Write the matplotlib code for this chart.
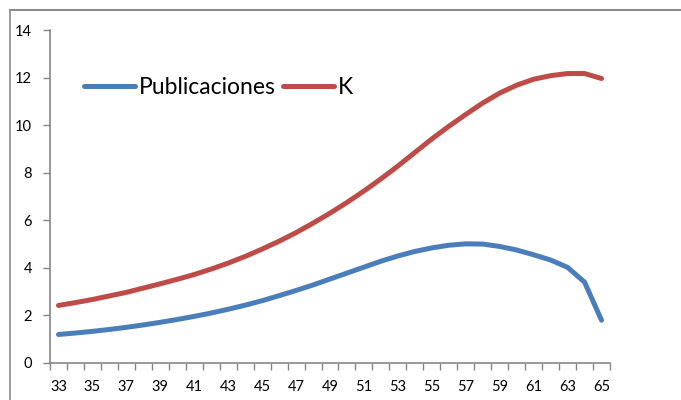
import matplotlib
matplotlib.use("Agg")
import matplotlib.pyplot as plt
from matplotlib.lines import Line2D
from matplotlib.ticker import FixedLocator, NullFormatter

plt.rcParams['font.family'] = ['Lato', 'DejaVu Sans']

ages = list(range(33, 66))
publicaciones = [1.20, 1.26, 1.33, 1.41, 1.50, 1.60, 1.71, 1.83, 1.96, 2.10,
                 2.26, 2.43, 2.62, 2.83, 3.05, 3.28, 3.53, 3.78, 4.03, 4.28,
                 4.50, 4.69, 4.84, 4.95, 5.01, 5.00, 4.90, 4.75, 4.55, 4.33,
                 4.02, 3.40, 1.80]
k_values = [2.42, 2.54, 2.67, 2.82, 2.97, 3.15, 3.33, 3.52, 3.72, 3.95,
            4.20, 4.48, 4.79, 5.12, 5.48, 5.88, 6.30, 6.75, 7.23, 7.74,
            8.28, 8.85, 9.42, 9.95, 10.45, 10.93, 11.35, 11.68, 11.93, 12.08,
            12.17, 12.17, 11.96]
y_ticks = [0, 2, 4, 6, 8, 10, 12, 14]

W, H = 681, 400
fig = plt.figure(figsize=(W / 100, H / 100), dpi=100)
ax = fig.add_axes([50 / W, 37 / H, 560 / W, 333 / H])

idx = list(range(len(ages)))
ax.plot(idx, publicaciones, color='#4A7EBB', lw=3.6, solid_capstyle='round',
        solid_joinstyle='round', label='Publicaciones')
ax.plot(idx, k_values, color='#BE4B48', lw=3.6, solid_capstyle='round',
        solid_joinstyle='round', label='K')

ax.set_xlim(-0.5, len(ages) - 0.5)
ax.set_ylim(0, 14)
ax.set_yticks(y_ticks)

# category labels every other age, tick marks on category boundaries
ax.set_xticks(idx[::2])
ax.set_xticklabels([str(a) for a in ages[::2]])
ax.tick_params(axis='x', which='major', length=0, pad=12, labelsize=10.5)
ax.xaxis.set_minor_locator(FixedLocator([i - 0.5 for i in range(len(ages) + 1)]))
ax.xaxis.set_minor_formatter(NullFormatter())
ax.tick_params(axis='x', which='minor', length=5, width=1, color='#868686')
ax.tick_params(axis='y', length=5, width=1, color='#868686', labelsize=10.5, pad=8)

for s in ('top', 'right'):
    ax.spines[s].set_visible(False)
for s in ('left', 'bottom'):
    ax.spines[s].set_color('#868686')
    ax.spines[s].set_linewidth(1.2)

leg = ax.legend(loc='upper left', bbox_to_anchor=(0.045, 0.885), ncol=2,
                frameon=False, fontsize=16.5, handlelength=2.2,
                handletextpad=0.2, columnspacing=0.3, borderaxespad=0)

# chart border
fig.add_artist(Line2D([10 / W, 10 / W], [0, 1 - 10 / H], transform=fig.transFigure,
                      color='#8c8c8c', lw=1.2))
fig.add_artist(Line2D([10 / W, 1], [1 - 10 / H, 1 - 10 / H], transform=fig.transFigure,
                      color='#8c8c8c', lw=1.5))

fig.savefig('out.png', dpi=100)
